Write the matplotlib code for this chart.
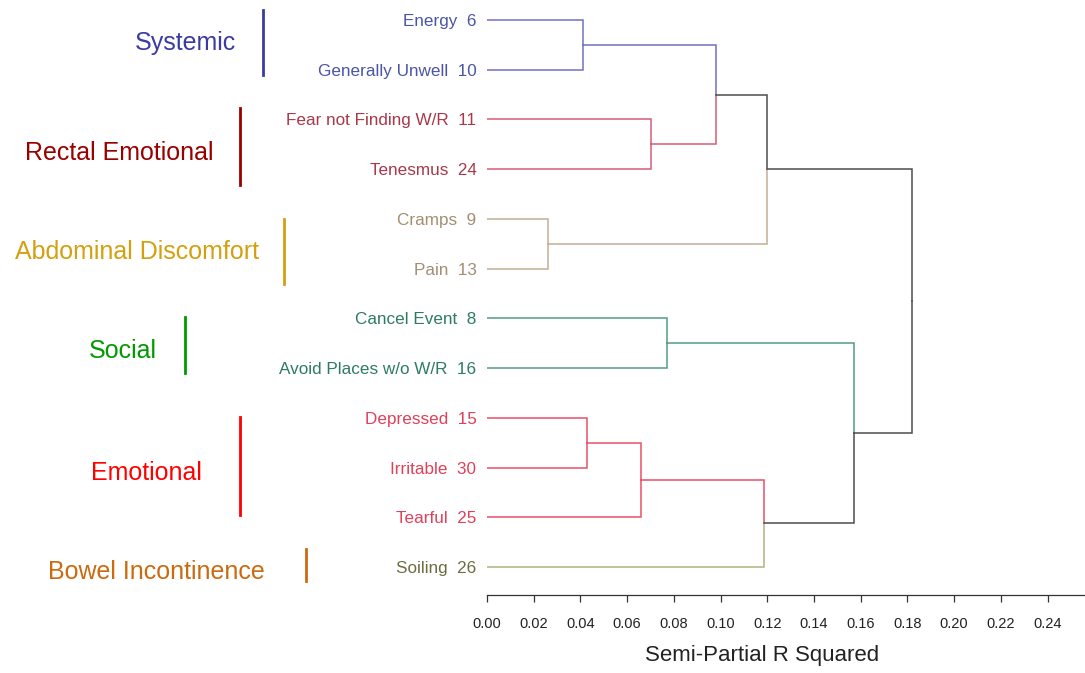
import matplotlib
matplotlib.use("Agg")
import matplotlib.pyplot as plt

plt.rcParams["font.family"] = ["Liberation Sans", "DejaVu Sans"]

# leaves, top to bottom
leaf_names = ["Energy", "Generally Unwell", "Fear not Finding W/R", "Tenesmus",
              "Cramps", "Pain", "Cancel Event", "Avoid Places w/o W/R",
              "Depressed", "Irritable", "Tearful", "Soiling"]
leaf_nums = [6, 10, 11, 24, 9, 13, 8, 16, 15, 30, 25, 26]
leaf_group = [0, 0, 1, 1, 2, 2, 3, 3, 4, 4, 4, 5]

# merges: (left node, right node, height); new nodes numbered from 12
merge_left = [0, 2, 4, 6, 8, 16, 12, 17, 18, 15, 20]
merge_right = [1, 3, 5, 7, 9, 10, 13, 11, 14, 19, 21]
merge_height = [0.041, 0.070, 0.026, 0.077, 0.043, 0.066, 0.098, 0.1185, 0.120, 0.157, 0.182]
# cluster of each merged node (-1 = above clusters, drawn dark)
merge_group = [0, 1, 2, 3, 4, 4, -1, -1, -1, -1, -1]

group_names = ["Systemic", "Rectal Emotional", "Abdominal Discomfort", "Social",
               "Emotional", "Bowel Incontinence"]

ticks = [0.00, 0.02, 0.04, 0.06, 0.08, 0.10, 0.12, 0.14, 0.16, 0.18, 0.20, 0.22, 0.24]

link_colors = ["#7272c2", "#d65c74", "#c2ad93", "#4f9e82", "#ea5068", "#b3b183"]
label_colors = ["#4b55a5", "#a8384a", "#a38e72", "#2e7c5e", "#e0405a", "#6e6c40"]
group_colors = ["#3b3ba3", "#990000", "#d4a010", "#009a00", "#ff0000", "#cc6a10"]
dark = "#4d4d4d"

# layout of the group annotations, pixels
group_text_x = [185, 119, 137, 123, 146, 156]
group_text_y = [43, 153, 252, 351, 473, 572]
group_bar_x = [263, 240, 284, 185, 240, 306]
group_bar_top = [10, 108, 219, 317, 417, 549]
group_bar_bot = [75, 185, 284, 373, 515, 581]

W, H = 1085, 673
fig = plt.figure(figsize=(W / 100, H / 100), dpi=100)
ax_left, ax_right, ax_bottom = 487, 1085, 595
ax = fig.add_axes([ax_left / W, 1 - ax_bottom / H, (ax_right - ax_left) / W, ax_bottom / H])

n = len(leaf_names)
px_per_leaf = (567 - 20) / (n - 1)
ax.set_ylim((n - 1) + (ax_bottom - 567) / px_per_leaf, -20 / px_per_leaf)
ax.set_xlim(0, 0.256)

# node positions
node_x = [0.0] * n
node_y = list(range(n))
node_color = [link_colors[g] for g in leaf_group]
for a, b, h, g in zip(merge_left, merge_right, merge_height, merge_group):
    node_x.append(h)
    node_y.append((node_y[a] + node_y[b]) / 2)
    node_color.append(link_colors[g] if g >= 0 else dark)

for k, (a, b, h) in enumerate(zip(merge_left, merge_right, merge_height)):
    ym = node_y[n + k]
    for c in (a, b):
        ax.plot([node_x[c], h, h], [node_y[c], node_y[c], ym],
                color=node_color[c], lw=1.1, solid_joinstyle="miter")

for i, (name, num, g) in enumerate(zip(leaf_names, leaf_nums, leaf_group)):
    ax.text(-0.0045, i + 0.03, f"{name}  {num}", ha="right", va="center",
            fontsize=12.3, color=label_colors[g], clip_on=False)

for spine in ("top", "right", "left"):
    ax.spines[spine].set_visible(False)
ax.spines["bottom"].set_color("#333333")
ax.spines["bottom"].set_linewidth(0.9)
ax.set_yticks([])
ax.set_xticks(ticks)
ax.set_xticklabels([f"{t:.2f}" for t in ticks])
ax.tick_params(axis="x", direction="out", length=5, width=0.9, pad=11,
               labelsize=10.5, colors="#333333", labelcolor="#222222")
ax.set_xlabel("Semi-Partial R Squared", fontsize=16, color="#222222")
ax.xaxis.set_label_coords((762 - ax_left) / (ax_right - ax_left), -(656 - ax_bottom) / ax_bottom)
ax.xaxis.label.set_va("center")

# group annotations with bars
for name, tx, ty, bx, y0, y1, col in zip(group_names, group_text_x, group_text_y,
                                         group_bar_x, group_bar_top, group_bar_bot, group_colors):
    fig.text(tx / W, 1 - ty / H, name, ha="center", va="center", fontsize=18, color=col)
    fig.add_artist(plt.Line2D([bx / W, bx / W], [1 - y0 / H, 1 - y1 / H],
                              color=col, lw=2.0))

fig.savefig("out.png", dpi=100, facecolor="white")
